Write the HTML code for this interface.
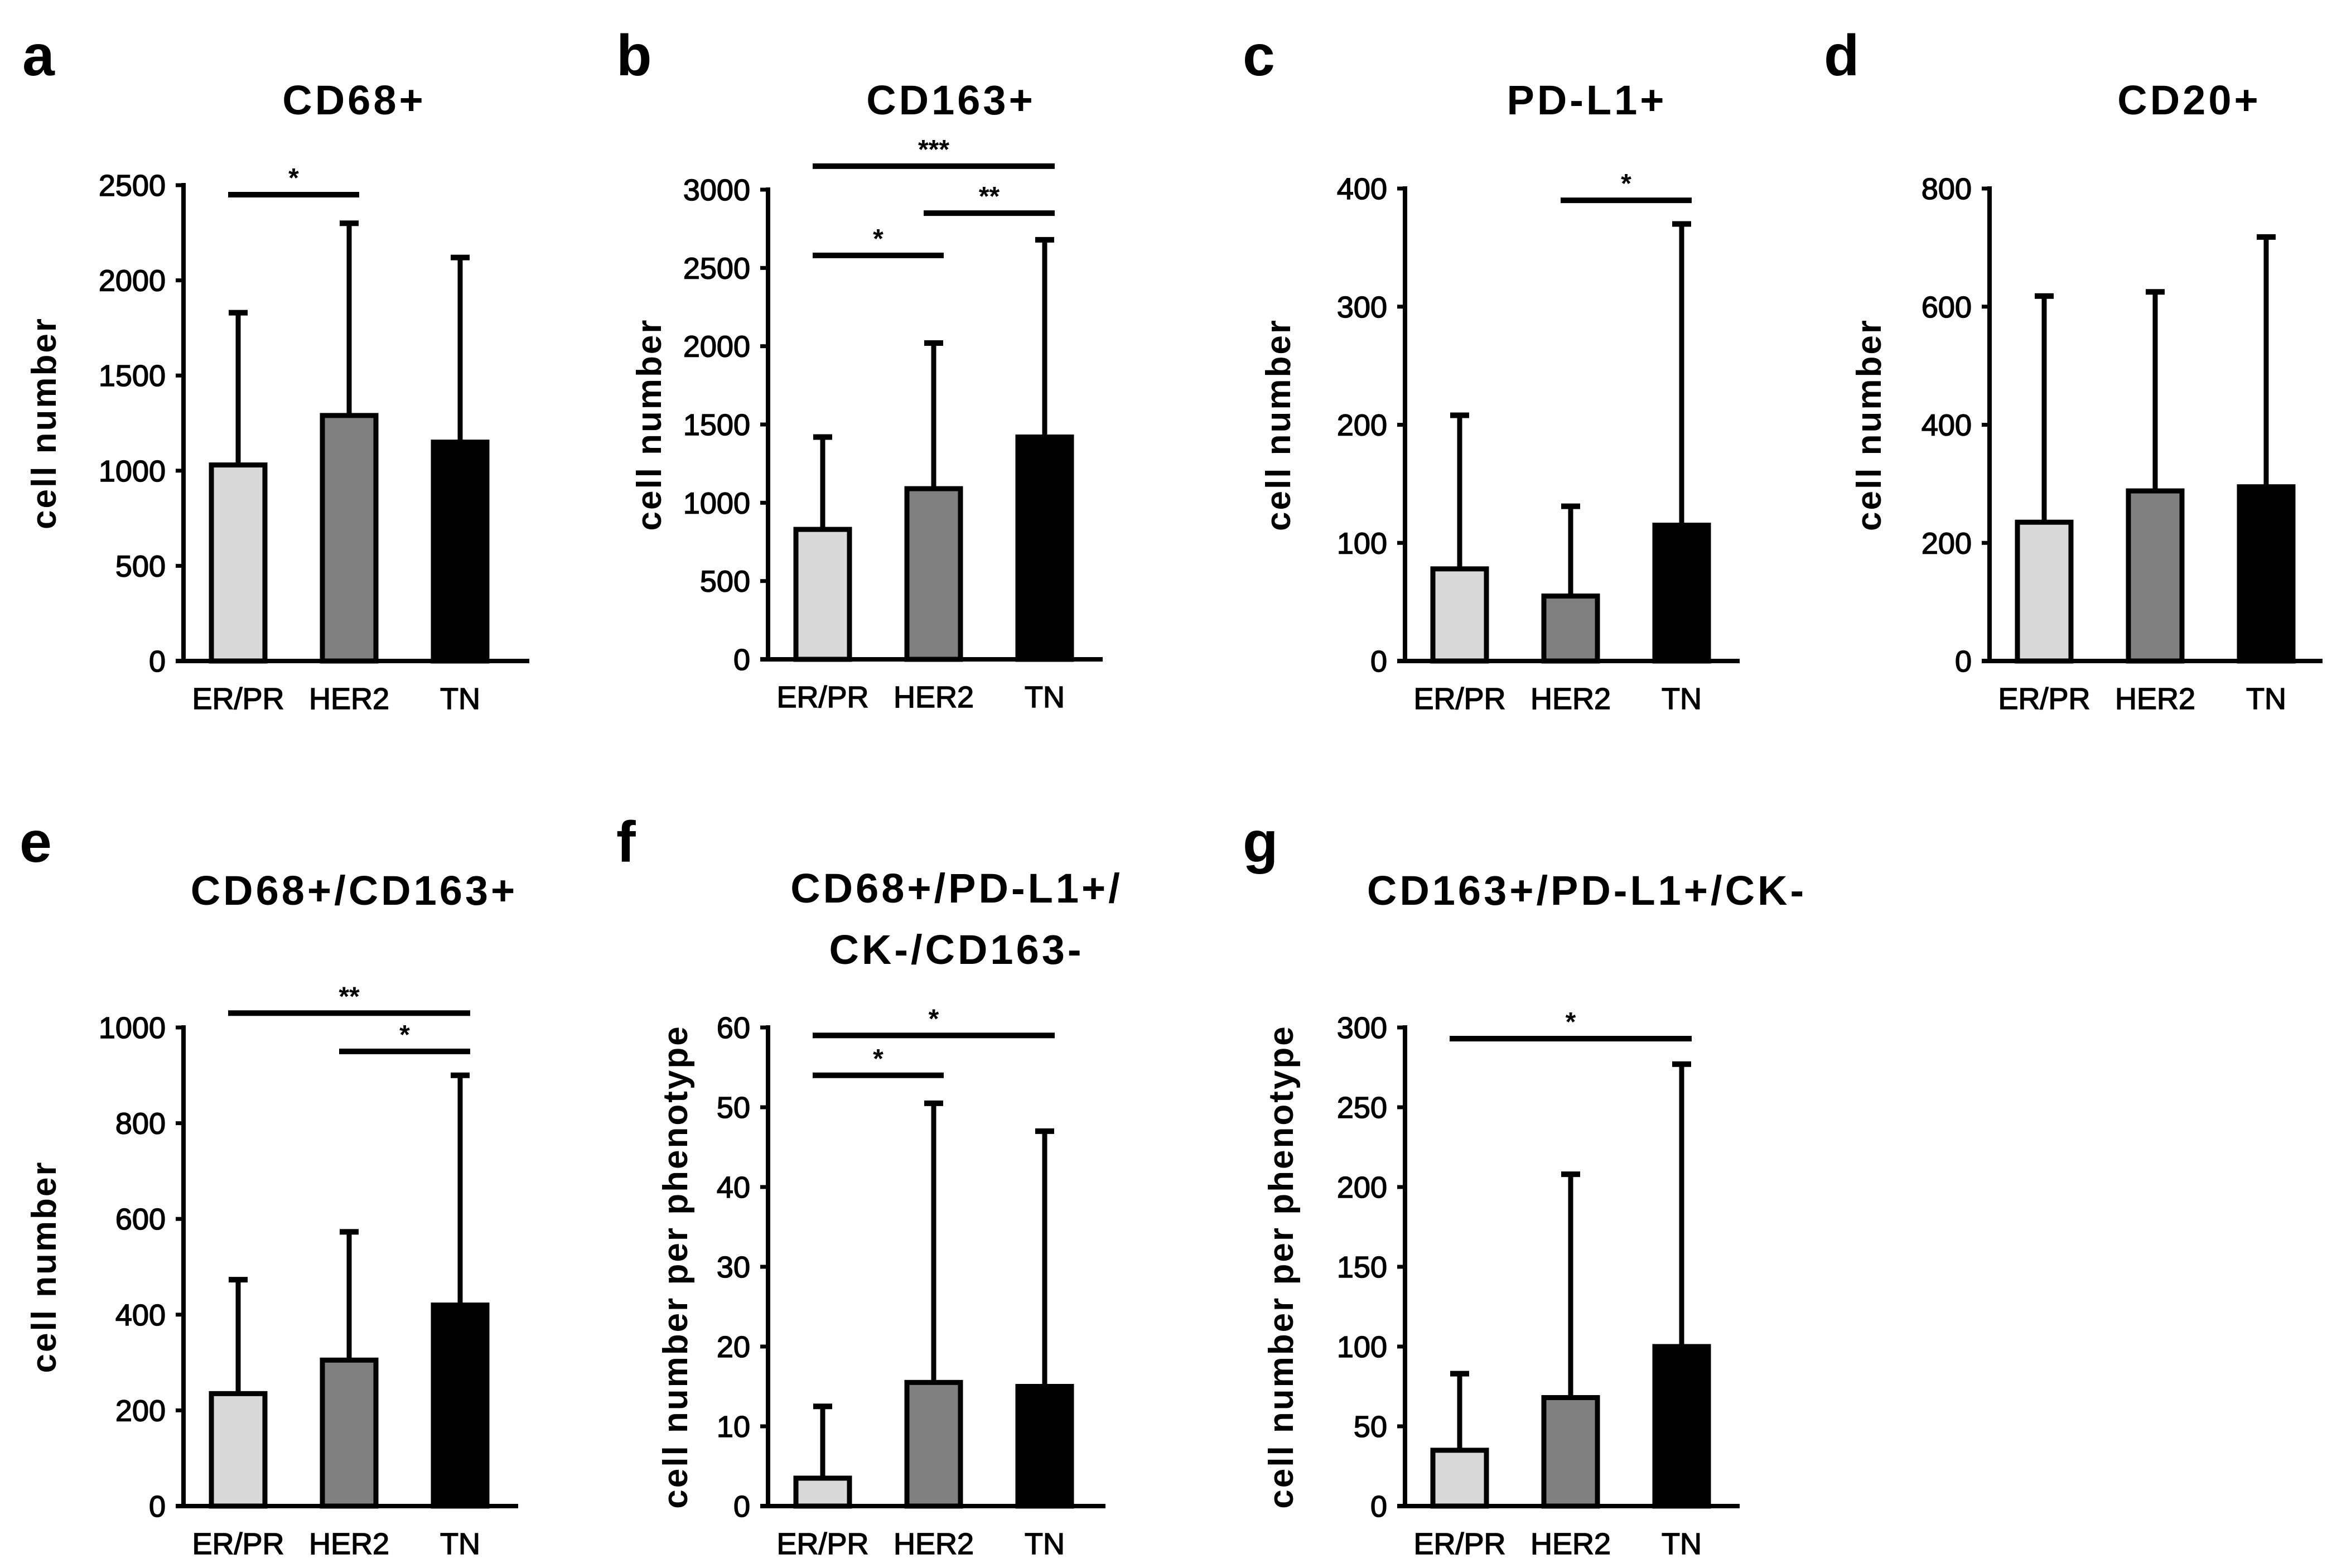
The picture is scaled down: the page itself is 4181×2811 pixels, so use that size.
<!DOCTYPE html>
<html><head><meta charset="utf-8">
<style>
html,body{margin:0;padding:0;background:#fff;}
svg{display:block;font-family:"Liberation Sans",Arial,sans-serif;}
</style></head>
<body>
<svg id="fig" width="4181" height="2811" viewBox="0 0 4181 2811" xmlns="http://www.w3.org/2000/svg"></svg>
<script>
const categories = ["ER/PR","HER2","TN"];
const fills = ["#d9d9d9","#808080","#000000"];

const aMeans = [1030,1290,1150], aErr = [1830,2300,2120];
const bMeans = [830,1090,1420], bErr = [1420,2020,2680];
const cMeans = [78,55,115], cErr = [208,131,370];
const dMeans = [235,288,295], dErr = [618,625,718];
const eMeans = [235,305,420], eErr = [473,573,900];
const fMeans = [3.5,15.5,15], fErr = [12.5,50.5,47];
const gMeans = [35,68,100], gErr = [83,208,277];

const aTicks = [0,500,1000,1500,2000,2500];
const bTicks = [0,500,1000,1500,2000,2500,3000];
const cTicks = [0,100,200,300,400];
const dTicks = [0,200,400,600,800];
const eTicks = [0,200,400,600,800,1000];
const fTicks = [0,10,20,30,40,50,60];
const gTicks = [0,50,100,150,200,250,300];

// significance: [fromIdx, toIdx, value, label]
const aSig = [[0,1,2450,"*"]];
const bSig = [[0,1,2580,"*"],[1,2,2850,"**"],[0,2,3150,"***"]];
const cSig = [[1,2,390,"*"]];
const dSig = [];
const eSig = [[1,2,950,"*"],[0,2,1030,"**"]];
const fSig = [[0,1,54,"*"],[0,2,59,"*"]];
const gSig = [[0,2,293,"*"]];

const NS="http://www.w3.org/2000/svg";
const svg=document.getElementById('fig');
function mk(tag,attrs,parent){const e=document.createElementNS(NS,tag);for(const k in attrs)e.setAttribute(k,attrs[k]);(parent||svg).appendChild(e);return e;}
function txt(s,attrs,parent){const e=mk('text',attrs,parent);e.textContent=s;return e;}

const panels=[
 {id:'a',letter:'a',lx:40,ly:135,title:['CD68+'],tx:635,ty:[205],ax:329,zero:1185,top:332,len:620,ytitle:'cell number',ytx:100,means:aMeans,err:aErr,ticks:aTicks,sig:aSig},
 {id:'b',letter:'b',lx:1105,ly:135,title:['CD163+'],tx:1705,ty:[205],ax:1377,zero:1182,top:340,len:600,ytitle:'cell number',ytx:1185,means:bMeans,err:bErr,ticks:bTicks,sig:bSig},
 {id:'c',letter:'c',lx:2228,ly:135,title:['PD-L1+'],tx:2845,ty:[205],ax:2519,zero:1185,top:338,len:600,ytitle:'cell number',ytx:2313,means:cMeans,err:cErr,ticks:cTicks,sig:cSig},
 {id:'d',letter:'d',lx:3270,ly:135,title:['CD20+'],tx:3925,ty:[205],ax:3567,zero:1185,top:338,len:597,ytitle:'cell number',ytx:3372,means:dMeans,err:dErr,ticks:dTicks,sig:dSig},
 {id:'e',letter:'e',lx:35,ly:1545,title:['CD68+/CD163+'],tx:635,ty:[1622],ax:329,zero:2700,top:1842,len:600,ytitle:'cell number',ytx:100,means:eMeans,err:eErr,ticks:eTicks,sig:eSig},
 {id:'f',letter:'f',lx:1105,ly:1545,title:['CD68+/PD-L1+/','CK-/CD163-'],tx:1715,ty:[1618,1728],ax:1377,zero:2700,top:1842,len:605,ytitle:'cell number per phenotype',ytx:1232,means:fMeans,err:fErr,ticks:fTicks,sig:fSig},
 {id:'g',letter:'g',lx:2228,ly:1545,title:['CD163+/PD-L1+/CK-'],tx:2845,ty:[1622],ax:2519,zero:2700,top:1842,len:600,ytitle:'cell number per phenotype',ytx:2318,means:gMeans,err:gErr,ticks:gTicks,sig:gSig}
];
const offsets=[98,297,496], barW=104;

panels.forEach(p=>{
  const g=mk('g',{});
  
  
  const maxV=p.ticks[p.ticks.length-1];
  const y=v=>p.zero-(v/maxV)*(p.zero-p.top);
  const x=i=>p.ax+offsets[i];
  const L=txt(p.letter,{x:p.lx,y:p.ly,'font-size':104,'font-weight':'bold'},g);
  
  
  p.title.forEach((t,k)=>{
    const T=txt(t,{x:p.tx,y:p.ty[k],'font-size':74,'font-weight':'bold','text-anchor':'middle','letter-spacing':5},g);
    
    
  });
  const mid=(p.zero+p.top)/2;
  const YT=txt(p.ytitle,{x:p.ytx,y:mid,'font-size':62,'font-weight':'bold','text-anchor':'middle','letter-spacing':3,transform:`rotate(-90 ${p.ytx} ${mid})`},g);
  
  
  p.means.forEach((m,i)=>{
    const eb=mk('line',{x1:x(i),x2:x(i),y1:y(m),y2:y(p.err[i]),stroke:'#000','stroke-width':9},g);
    
    
    const cap=mk('line',{x1:x(i)-17,x2:x(i)+17,y1:y(p.err[i]),y2:y(p.err[i]),stroke:'#000','stroke-width':10},g);
    
    
    const r=mk('rect',{x:x(i)-barW/2+4,y:y(m),width:barW-8,height:p.zero-y(m),fill:fills[i],stroke:'#000','stroke-width':9},g);
    
    
    const c=txt(categories[i],{x:x(i),y:p.zero+86,'font-size':54,'text-anchor':'middle',stroke:'#000','stroke-width':1.5},g);
    
    
  });
  const ya=mk('line',{x1:p.ax,x2:p.ax,y1:p.top-4,y2:p.zero+4,stroke:'#000','stroke-width':8},g);
  
  
  const xa=mk('line',{x1:p.ax-14,x2:p.ax+p.len,y1:p.zero,y2:p.zero,stroke:'#000','stroke-width':8},g);
  
  
  p.ticks.forEach(t=>{
    const tk=mk('line',{x1:p.ax-14,x2:p.ax,y1:y(t),y2:y(t),stroke:'#000','stroke-width':7},g);
    
    
    const tl=txt(String(t),{x:p.ax-32,y:y(t)+19,'font-size':54,'text-anchor':'end',stroke:'#000','stroke-width':1.5},g);
    
    
  });
  p.sig.forEach(s=>{
    const x1=x(s[0])-18, x2=x(s[1])+18, yy=y(s[2]);
    const sl=mk('line',{x1:x1,x2:x2,y1:yy,y2:yy,stroke:'#000','stroke-width':10},g);
    
    
    const st=txt(s[3],{x:(x1+x2)/2,y:yy-14,'font-size':48,'font-weight':'bold','text-anchor':'middle'},g);
    
    
  });
});
</script>
</body></html>
